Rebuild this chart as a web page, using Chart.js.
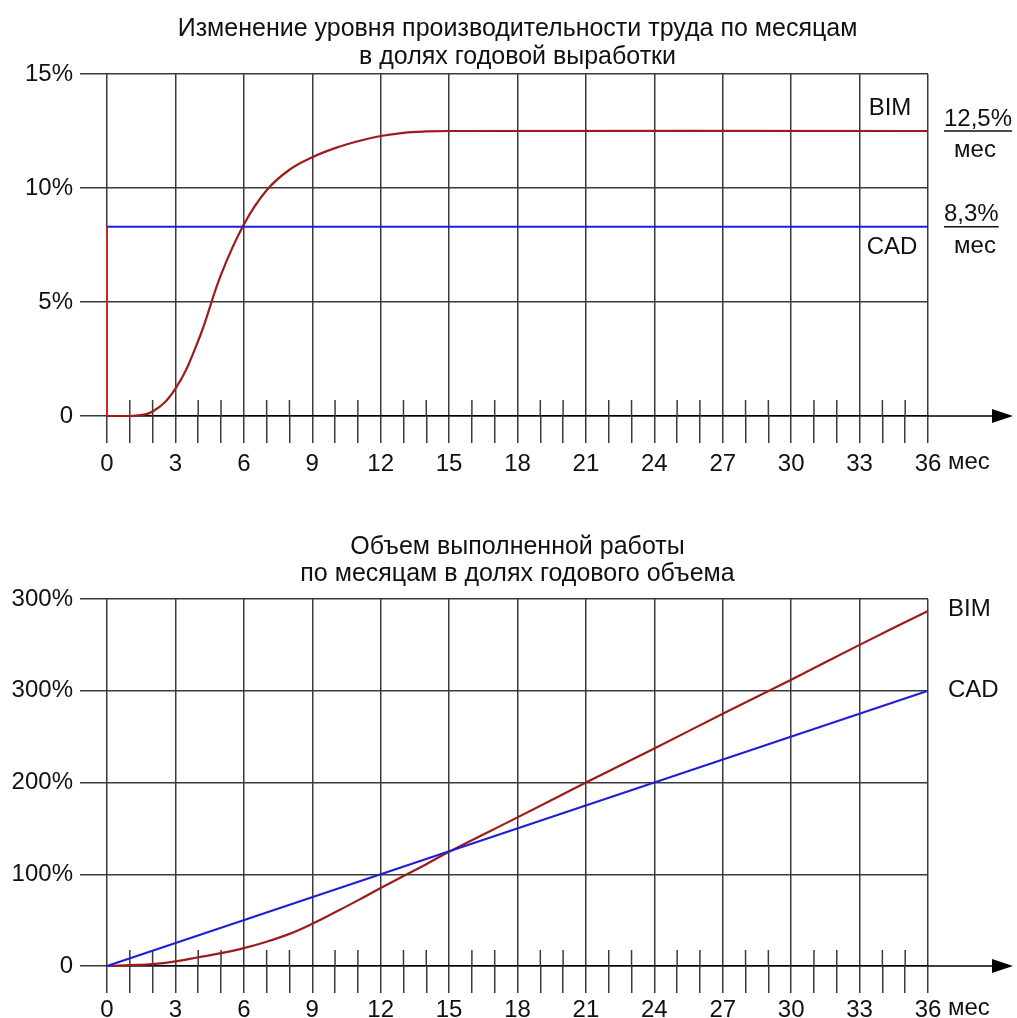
<!DOCTYPE html>
<html lang="ru">
<head>
  <meta charset="UTF-8" />
  <title>BIM / CAD</title>
  <script src="https://cdn.jsdelivr.net/npm/chart.js"></script>
  <style>
    body { margin: 0; background: #fff; overflow: hidden; }
    .box { position: absolute; left: 0; width: 1035px; }
    #caixaTopo { top: 0; height: 500px; }
    #caixaBaixo { top: 500px; height: 518px; }
  </style>
</head>
<body>
  <div class="box" id="caixaTopo"><canvas id="graficoProd"></canvas></div>
  <div class="box" id="caixaBaixo"><canvas id="graficoVolume"></canvas></div>

  <script>
    // ---- данные ----
    const tituloProd = ["Изменение уровня производительности труда по месяцам", "в долях годовой выработки"];
    const tituloVolume = ["Объем выполненной работы", "по месяцам в долях годового объема"];

    const prodTicks = [0, 5, 10, 15];
    const prodTickLabels = ["0", "5%", "10%", "15%"];
    const volTicks = [0, 100, 200, 300, 400];
    const volTickLabels = ["0", "100%", "200%", "300%", "300%"];

    // производительность, % в месяц
    const bimInicioMeses = [0, 0];
    const bimInicioValores = [8.3, 0];
    const bimProdMeses = [0, 1, 2, 3, 4, 5, 6, 7, 8, 9, 10, 11, 12, 13, 14, 15, 36];
    const bimProdValores = [0, 0, 0.2, 1.2, 3.3, 6.2, 8.4, 9.9, 10.8, 11.35, 11.75, 12.05, 12.28, 12.42, 12.48, 12.5, 12.5];
    const cadProdMeses = [0, 36];
    const cadProdValores = [8.3, 8.3];

    // объем работы, % годового
    const bimVolMeses = [0, 1, 2, 3, 4, 5, 6, 7, 8, 9, 10, 11, 12, 13, 14, 15, 18, 21, 24, 27, 30, 33, 36];
    const bimVolValores = [0, 1, 2, 5, 9.5, 14, 19.5, 26.5, 35, 46, 58.5, 71.5, 85, 98, 111, 124.5, 162, 200, 237, 275, 312, 350, 387];
    const cadVolMeses = [0, 36];
    const cadVolValores = [0, 300];

    const GRID = "#3a3a3a";
    const RED = "#9e1b1b";
    const BLUE = "#1f1fd8";
    const FONT = "'Liberation Sans', Arial, sans-serif";

    Chart.defaults.font.family = FONT;
    Chart.defaults.font.size = 24;
    Chart.defaults.color = "#111";

    function pontos(meses, valores) {
      return meses.map(function (m, i) { return { x: m, y: valores[i] }; });
    }

    function linha(ctx, x1, y1, x2, y2) {
      ctx.beginPath();
      ctx.moveTo(x1, y1);
      ctx.lineTo(x2, y2);
      ctx.stroke();
    }

    // мелкие риски над осью, стрелка, подписи
    const decor = {
      id: "decor",
      beforeDatasetsDraw(chart) {
        const { ctx, scales: { x, y } } = chart;
        const y0 = y.getPixelForValue(0);
        ctx.save();
        ctx.strokeStyle = GRID;
        ctx.lineWidth = 1.5;
        for (let m = 1; m < 36; m++) {
          if (m % 3 === 0) continue;
          const px = x.getPixelForValue(m);
          linha(ctx, px, y0 - 16, px, y0);
        }
        ctx.restore();
      },
      afterDraw(chart, args, opts) {
        const { ctx, chartArea: a, scales: { x, y } } = chart;
        const y0 = y.getPixelForValue(0);
        ctx.save();
        ctx.strokeStyle = "#000";
        ctx.fillStyle = "#000";
        ctx.lineWidth = 1.5;
        linha(ctx, a.right, y0, 995, y0);
        ctx.beginPath();
        ctx.moveTo(992, y0 - 7);
        ctx.lineTo(1013, y0);
        ctx.lineTo(992, y0 + 7);
        ctx.closePath();
        ctx.fill();

        ctx.fillStyle = "#111";
        ctx.font = "24px " + FONT;
        ctx.textBaseline = "middle";
        ctx.textAlign = "left";
        ctx.fillText("мес", x.getPixelForValue(36) + 20, y0 + opts.mesDy);

        (opts.notas || []).forEach(function (n) {
          ctx.textAlign = n.align || "left";
          const py = y.getPixelForValue(n.valor) + n.dy;
          ctx.fillText(n.texto, n.px, py);
          if (n.sublinhado) {
            const w = ctx.measureText(n.texto).width;
            ctx.lineWidth = 1.5;
            ctx.strokeStyle = "#111";
            linha(ctx, n.px, y.getPixelForValue(n.valor), n.px + w, y.getPixelForValue(n.valor));
          }
        });
        ctx.restore();
      },
    };

    function eixoX(alturaEixo, pad) {
      return {
        type: "linear",
        min: 0,
        max: 36,
        afterFit: function (s) { s.height = alturaEixo; },
        ticks: {
          stepSize: 1,
          autoSkip: false,
          maxRotation: 0,
          padding: pad,
          callback: function (v) { return v % 3 === 0 ? String(v) : ""; },
        },
        grid: {
          color: function (c) { return c.tick && c.tick.value % 3 === 0 ? GRID : "rgba(0,0,0,0)"; },
          tickColor: GRID,
          tickLength: 27,
          lineWidth: 1.5,
        },
        border: { color: "#000", width: 1.5 },
      };
    }

    function eixoY(max, ticks, labels) {
      return {
        type: "linear",
        min: 0,
        max: max,
        afterFit: function (s) { s.width = 107; },
        afterBuildTicks: function (s) { s.ticks = ticks.map(function (v) { return { value: v }; }); },
        ticks: {
          padding: 7,
          callback: function (v) { return labels[ticks.indexOf(v)]; },
        },
        grid: { color: GRID, tickColor: GRID, tickLength: 27, lineWidth: 1.5 },
        border: { display: false },
      };
    }

    // пустая правая ось — место для подписей справа
    function eixoDireita() {
      return {
        type: "linear",
        position: "right",
        display: true,
        ticks: { display: false },
        grid: { display: false },
        border: { display: false },
        afterFit: function (s) { s.width = 107; },
      };
    }

    const graficoProd = new Chart(document.getElementById("graficoProd"), {
      type: "line",
      data: {
        datasets: [
          { label: "BIM0", data: pontos(bimInicioMeses, bimInicioValores), borderColor: "#c42828", borderWidth: 2, pointRadius: 0, clip: false },
          { label: "CAD", data: pontos(cadProdMeses, cadProdValores), borderColor: BLUE, borderWidth: 2, pointRadius: 0 },
          { label: "BIM", data: pontos(bimProdMeses, bimProdValores), borderColor: RED, borderWidth: 2.2, pointRadius: 0, tension: 0.4, clip: false },
        ],
      },
      options: {
        responsive: true,
        maintainAspectRatio: false,
        animation: false,
        layout: { padding: 0 },
        plugins: {
          legend: { display: false },
          tooltip: { enabled: false },
          title: {
            display: true,
            text: tituloProd,
            color: "#111",
            font: { size: 25, weight: "normal", lineHeight: 1.12 },
            padding: { top: 15, bottom: 3 },
          },
          decor: {
            mesDy: 46,
            notas: [
              { texto: "BIM", px: 890, valor: 12.5, dy: -23, align: "center" },
              { texto: "CAD", px: 892, valor: 8.3, dy: 21, align: "center" },
              { texto: "12,5%", px: 944, valor: 12.5, dy: -12, sublinhado: true },
              { texto: "мес", px: 975, valor: 12.5, dy: 19, align: "center" },
              { texto: "8,3%", px: 944, valor: 8.3, dy: -12, sublinhado: true },
              { texto: "мес", px: 975, valor: 8.3, dy: 20, align: "center" },
            ],
          },
        },
        scales: {
          x: eixoX(84, 7),
          y: eixoY(15, prodTicks, prodTickLabels),
          yR: eixoDireita(),
        },
      },
      plugins: [decor],
    });

    const graficoVolume = new Chart(document.getElementById("graficoVolume"), {
      type: "line",
      data: {
        datasets: [
          { label: "CAD", data: pontos(cadVolMeses, cadVolValores), borderColor: BLUE, borderWidth: 2.2, pointRadius: 0, clip: false },
          { label: "BIM", data: pontos(bimVolMeses, bimVolValores), borderColor: RED, borderWidth: 2.2, pointRadius: 0, tension: 0.4, clip: false },
        ],
      },
      options: {
        responsive: true,
        maintainAspectRatio: false,
        animation: false,
        layout: { padding: 0 },
        plugins: {
          legend: { display: false },
          tooltip: { enabled: false },
          title: {
            display: true,
            text: tituloVolume,
            color: "#111",
            font: { size: 25, weight: "normal", lineHeight: 1.08 },
            padding: { top: 34, bottom: 11 },
          },
          decor: {
            mesDy: 42,
            notas: [
              { texto: "BIM", px: 948, valor: 387, dy: -2 },
              { texto: "CAD", px: 948, valor: 300, dy: 0 },
            ],
          },
        },
        scales: {
          x: eixoX(52, 3),
          y: eixoY(400, volTicks, volTickLabels),
          yR: eixoDireita(),
        },
      },
      plugins: [decor],
    });
  </script>
</body>
</html>
